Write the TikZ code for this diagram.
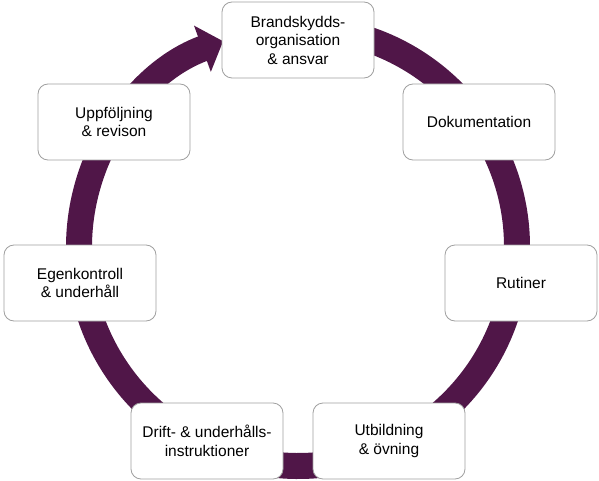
\documentclass[tikz,border=0pt]{standalone}
\usepackage{fontspec}
\setmainfont{Liberation Sans}
\usetikzlibrary{arrows.meta}
\definecolor{ringpurple}{RGB}{80,22,72}
\definecolor{boxgray}{RGB}{160,160,160}
\begin{document}
\begin{tikzpicture}[x=1pt,y=-1pt,
    stagebox/.style={draw=boxgray, line width=0.8pt, fill=white, rounded corners=10pt,
        minimum width=152pt, minimum height=76pt, align=center, inner sep=2pt,
        font=\fontsize{15.5}{18.5}\selectfont},
    cycle/.style={draw=ringpurple, line width=26pt, -{Triangle[width=48pt,length=22pt]}}]
    \useasboundingbox (0,0) rectangle (599,481);

    \coordinate (ringc) at (298,247);
    \draw[cycle] (ringc) ++(-85:219) arc[start angle=-85, end angle=250, radius=219];

    \node[stagebox] (brand) at (298,40)  {Brandskydds-\\organisation\\\& ansvar};
    \node[stagebox] (dok)   at (479,122) {Dokumentation};
    \node[stagebox] (rutin) at (521,283) {Rutiner};
    \node[stagebox] (utb)   at (389,441) {Utbildning\\\& övning};
    \node[stagebox] (drift) at (207,441) {Drift- \& underhålls-\\instruktioner};
    \node[stagebox] (egen)  at (80,283)  {Egenkontroll\\\& underhåll};
    \node[stagebox] (uppf)  at (114,122) {Uppföljning\\\& revison};
\end{tikzpicture}
\end{document}
